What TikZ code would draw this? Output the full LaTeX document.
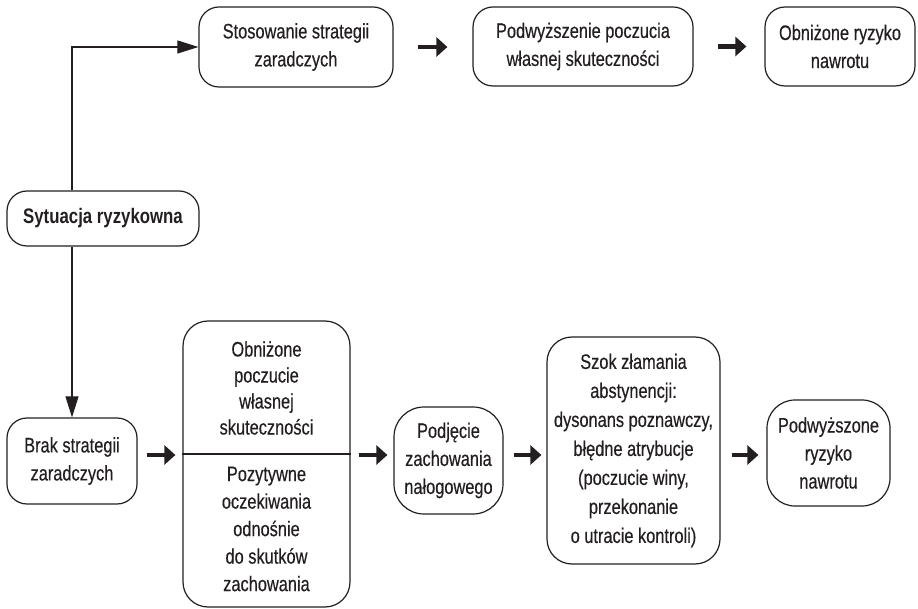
\documentclass[tikz,border=0pt]{standalone}
\usepackage{fontspec}
\setmainfont[FakeStretch=0.78, FakeBold=0.4, BoldFeatures={FakeStretch=0.8, FakeBold=0}]{Liberation Sans}
\usetikzlibrary{arrows.meta}
\definecolor{ink}{HTML}{231F20}
\tikzset{
  box/.style={draw=ink, line width=1.2pt, rounded corners=20pt, inner sep=0pt, align=center,
    text=ink, font=\fontsize{21}{28}\selectfont},
  txt/.style={inner sep=0pt, align=center, text=ink},
  fat/.style={draw=ink, line width=4.5pt, -{Triangle[length=11pt,width=19pt]}},
  slim/.style={draw=ink, line width=1.1pt, -{Triangle[length=21pt,width=13pt]}}
}
\begin{document}
\begin{tikzpicture}[x=1pt,y=-1pt]
\useasboundingbox (0,0) rectangle (918,609);
% top row
\node[box, minimum width=194pt, minimum height=80pt] (st) at (296,47) {Stosowanie strategii\\zaradczych};
\node[box, minimum width=220pt, minimum height=79pt] (pw) at (583,46.5) {Podwyższenie poczucia\\własnej skuteczności};
\node[box, minimum width=150pt, minimum height=79pt] (or) at (840,46.5) {Obniżone ryzyko\\nawrotu};
% situation
\node[box, minimum width=192pt, minimum height=55pt, font=\fontsize{21}{28}\selectfont\bfseries] (sr) at (103,218.5) {Sytuacja ryzykowna};
% bottom row
\node[box, minimum width=130pt, minimum height=86pt] (brak) at (72,461) {Brak strategii\\zaradczych};
\node[box, minimum width=167pt, minimum height=286pt, rounded corners=25pt] (big) at (266.5,464) {};
\node[txt, font=\fontsize{21}{26}\selectfont] (bigA) at (266.5,388) {Obniżone\\poczucie\\własnej\\skuteczności};
\node[txt, font=\fontsize{21}{27.5}\selectfont] (bigB) at (266.5,529) {Pozytywne\\oczekiwania\\odnośnie\\do skutków\\zachowania};
\draw[draw=ink, line width=1.2pt] (big.west |- 0,454) -- (big.east |- 0,454);
\node[box, minimum width=109pt, minimum height=107pt, rounded corners=30pt] (pj) at (448.5,460.5) {Podjęcie\\zachowania\\nałogowego};
\node[box, minimum width=173pt, minimum height=227pt, rounded corners=25pt, font=\fontsize{21}{29}\selectfont] (szok) at (633.5,450.5) {Szok złamania\\abstynencji:\\dysonans poznawczy,\\błędne atrybucje\\(poczucie winy,\\przekonanie\\o utracie kontroli)};
\node[box, minimum width=123pt, minimum height=106pt, rounded corners=28pt] (pz) at (828.5,453) {Podwyższone\\ryzyko\\nawrotu};
% thin connectors
\draw[slim] (sr.north -| brak.north) |- (st.west);
\draw[slim] (sr.south -| brak.north) -- (brak.north);
% fat arrows top
\draw[fat, shorten <=24pt, shorten >=25pt] (st.east) -- (st.east -| pw.west);
\draw[fat, shorten <=24pt, shorten >=18pt] (pw.east) -- (pw.east -| or.west);
% fat arrows bottom
\draw[fat, shorten <=9pt, shorten >=7pt] (brak.east |- 0,455) -- (big.west |- 0,455);
\draw[fat, shorten <=8pt, shorten >=6pt] (big.east |- 0,455) -- (pj.west |- 0,455);
\draw[fat, shorten <=10pt, shorten >=5pt] (pj.east |- 0,455) -- (szok.west |- 0,455);
\draw[fat, shorten <=11pt, shorten >=8pt] (szok.east |- 0,455) -- (pz.west |- 0,455);
\end{tikzpicture}
\end{document}
